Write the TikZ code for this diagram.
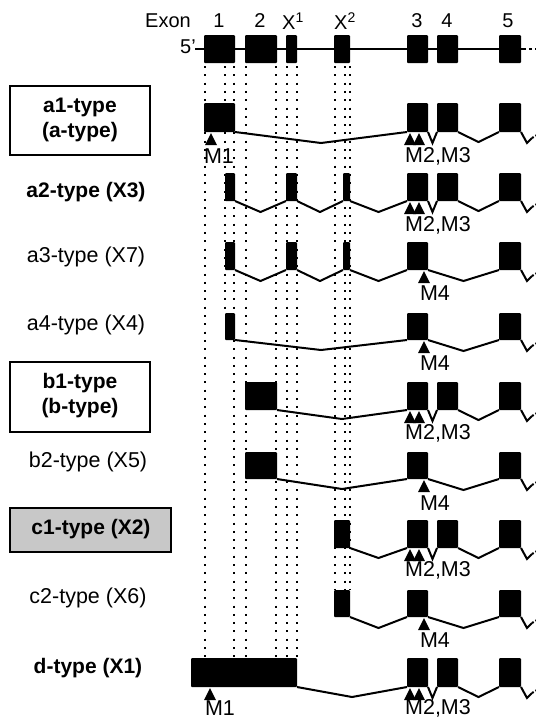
\documentclass[tikz,border=0pt]{standalone}
\usepackage{fontspec}
\setmainfont{Liberation Sans}
\definecolor{boxgray}{RGB}{200,200,200}
\newcommand\exbox[4]{\fill[rounded corners=1pt] (#1,#3) rectangle (#2,#4);}
\newcommand\intr[4]{\draw[intron] (#1,#3) -- ({(#1+#2)/2},{#3+#4}) -- (#2,#3);}
\newcommand\tailend[1]{\draw[intron] (521,#1) -- (527,{#1+11}) -- (532,{#1+6});
  \draw[intron, dash pattern=on 2pt off 2pt] (532,{#1+6}) -- (537,{#1+3});}
\newcommand\rightA[2]{\exbox{407}{428}{#1}{#2}\exbox{437}{458}{#1}{#2}\exbox{499}{521}{#1}{#2}
  \intr{428}{437}{#2}{11}\intr{458}{499}{#2}{10}\tailend{#2}}
\newcommand\rightB[2]{\exbox{407}{428}{#1}{#2}\exbox{499}{521}{#1}{#2}
  \intr{428}{499}{#2}{11}\tailend{#2}}
\newcommand\tri[2]{\fill (#1,#2) -- ({#1-6},{#2+12}) -- ({#1+6},{#2+12}) -- cycle;}
\begin{document}
\begin{tikzpicture}[x=1pt,y=-1pt,
  lab/.style={font=\fontsize{21.5}{25}\selectfont, inner sep=0pt, align=center},
  blab/.style={lab, font=\fontsize{21}{25}\selectfont\bfseries},
  toplab/.style={font=\fontsize{20}{24}\selectfont, inner sep=0pt},
  intron/.style={line width=2pt, line join=miter},
  dots/.style={line width=2pt, dash pattern=on 2pt off 6.3pt},
  tbox/.style={draw, line width=1.4pt}]
\useasboundingbox (0,0) rectangle (536,724);
% dotted guide lines
\foreach \x/\ye in {205/658, 225/313, 234/658, 246/658, 276/658, 287/658, 297/658, 335/590, 345/590, 350/590}
  \draw[dots] (\x,66) -- (\x,\ye);
% top gene
\node[toplab] (exon) at (168,21) {Exon};
\node[toplab] (e1) at (219,21) {1};
\node[toplab] (e2) at (260,21) {2};
\node[toplab] (ex1) at (293,21) {X\textsuperscript{1}};
\node[toplab] (ex2) at (345,21) {X\textsuperscript{2}};
\node[toplab] (e3) at (417,21) {3};
\node[toplab] (e4) at (447,21) {4};
\node[toplab] (e5) at (508,21) {5};
\node[font=\fontsize{20}{22}\selectfont, inner sep=0pt] (five) at (188,47) {5’};
\draw[line width=2pt] (195,49) -- (523,49);
\draw[line width=2pt, dash pattern=on 3pt off 3pt] (523,49) -- (537,49);
\exbox{204}{235}{35}{63}\exbox{245}{277}{35}{63}\exbox{286}{297}{35}{63}\exbox{334}{350}{35}{63}
\exbox{407}{428}{35}{63}\exbox{437}{458}{35}{63}\exbox{499}{521}{35}{63}
% a1
\exbox{204}{235}{103}{132}\intr{235}{407}{132}{11}\rightA{103}{132}
\tri{211}{133}\node[lab] (m1a) at (219,156) {M1};
\tri{410}{133}\tri{419}{133}\node[lab] (m23a) at (438,156) {M2,M3};
% a2
\exbox{225}{235}{173}{201}\exbox{286}{297}{173}{201}\exbox{343}{350}{173}{201}
\intr{235}{286}{201}{11}\intr{297}{343}{201}{11}\intr{350}{407}{201}{11}\rightA{173}{201}
\tri{410}{202}\tri{419}{202}\node[lab] (m23b) at (438,225) {M2,M3};
% a3
\exbox{225}{235}{242}{270}\exbox{286}{297}{242}{270}\exbox{343}{350}{242}{270}
\intr{235}{286}{270}{11}\intr{297}{343}{270}{11}\intr{350}{407}{270}{11}\rightB{242}{270}
\tri{424}{271}\node[lab] (m4a) at (435,293) {M4};
% a4
\exbox{225}{235}{313}{340}\intr{235}{407}{340}{10}\rightB{313}{340}
\tri{424}{341}\node[lab] (m4b) at (435,363) {M4};
% b1
\exbox{245}{277}{382}{410}\intr{277}{407}{410}{9}\rightA{382}{410}
\tri{410}{411}\tri{419}{411}\node[lab] (m23c) at (438,433) {M2,M3};
% b2
\exbox{245}{277}{452}{479}\intr{277}{407}{479}{10}\rightB{452}{479}
\tri{424}{480}\node[lab] (m4c) at (435,503) {M4};
% c1
\exbox{334}{350}{520}{548}\intr{350}{407}{548}{10}\rightA{520}{548}
\tri{410}{549}\tri{419}{549}\node[lab] (m23d) at (438,570) {M2,M3};
% c2
\exbox{334}{350}{590}{617}\intr{350}{407}{617}{11}\rightB{590}{617}
\tri{424}{618}\node[lab] (m4d) at (435,640) {M4};
% d
\exbox{191}{297}{658}{687}\intr{297}{407}{687}{10}\rightA{658}{687}
\tri{210}{688}\node[lab] (m1b) at (220,708) {M1};
\tri{410}{688}\tri{419}{688}\node[lab] (m23e) at (438,708) {M2,M3};
% left labels
\draw[tbox] (10,86) rectangle (150,155);
\node[blab] (la1) at (80,120) {a1-type\\(a-type)};
\node[blab] (la2) at (86,192) {a2-type (X3)};
\node[lab] (la3) at (86,257) {a3-type (X7)};
\node[lab] (la4) at (86,325) {a4-type (X4)};
\draw[tbox] (10,362) rectangle (150,432);
\node[blab] (lb1) at (80,396) {b1-type\\(b-type)};
\node[lab] (lb2) at (88,462) {b2-type (X5)};
\draw[tbox, fill=boxgray] (10,508) rectangle (171,552);
\node[blab] (lc1) at (91,529) {c1-type (X2)};
\node[lab] (lc2) at (88,598) {c2-type (X6)};
\node[blab] (ld) at (88,668) {d-type (X1)};
\end{tikzpicture}
\end{document}
